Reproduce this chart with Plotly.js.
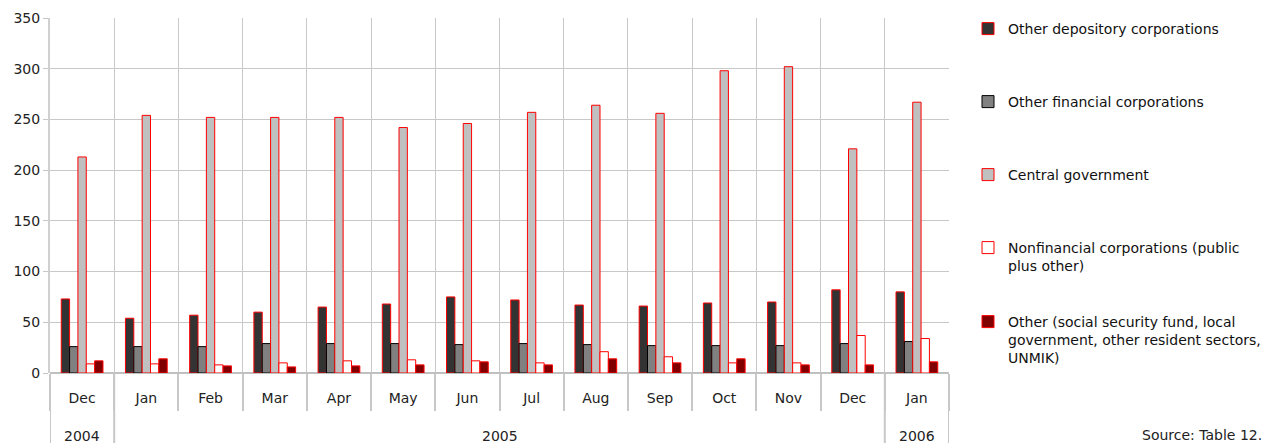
<!DOCTYPE html>
<html>
<head>
<meta charset="utf-8">
<script src="https://cdn.plot.ly/plotly-3.0.1.min.js"></script>
<style>
  html, body { margin: 0; padding: 0; background: #fff; }
  #chart { width: 1272px; height: 443px; }
</style>
</head>
<body>
<div id="chart"></div>
<script>
// categories: month row and year row
const months = ["Dec", "Jan", "Feb", "Mar", "Apr", "May", "Jun", "Jul", "Aug", "Sep", "Oct", "Nov", "Dec", "Jan"];
const years = ["2004", "2005", "2005", "2005", "2005", "2005", "2005", "2005", "2005", "2005", "2005", "2005", "2005", "2006"];

// series values
const otherDepository = [73, 54, 57, 60, 65, 68, 75, 72, 67, 66, 69, 70, 82, 80];
const otherFinancial = [26, 26, 26, 29, 29, 29, 28, 29, 28, 27, 27, 27, 29, 31];
const centralGov = [213, 254, 252, 252, 252, 242, 246, 257, 264, 256, 298, 302, 221, 267];
const nonfinancial = [9, 9, 8, 10, 12, 13, 12, 10, 21, 16, 10, 10, 37, 34];
const otherSectors = [12, 14, 7, 6, 7, 8, 11, 8, 14, 10, 14, 8, 8, 11];

const seriesNames = [
  "Other depository corporations",
  "Other financial corporations",
  "Central government",
  "Nonfinancial corporations (public<br>plus other)",
  "Other (social security fund, local<br>government, other resident sectors,<br>UNMIK)"
];

const FONT = "DejaVu Sans, Verdana, sans-serif";
const GRID = "#c8c8c8";

const idx = months.map((m, i) => i);
const boundaries = months.map((m, i) => i - 0.5).concat([months.length - 0.5]);

function barTrace(vals, i, fill, edge, legendId) {
  return {
    type: "bar",
    x: idx,
    y: vals,
    name: seriesNames[i],
    legend: legendId,
    marker: { color: fill, line: { color: edge, width: 1 } }
  };
}

const traces = [
  barTrace(otherDepository, 0, "#333333", "#ff0000", "legend"),
  barTrace(otherFinancial, 1, "#808080", "#000000", "legend2"),
  barTrace(centralGov, 2, "#c0c0c0", "#ff0000", "legend3"),
  barTrace(nonfinancial, 3, "#ffffff", "#ff0000", "legend4"),
  barTrace(otherSectors, 4, "#800000", "#ff0000", "legend5")
];

function legendAt(topPx) {
  return {
    xref: "container", yref: "container",
    x: 968 / 1272, y: 1 - topPx / 443,
    xanchor: "left", yanchor: "top",
    bgcolor: "rgba(0,0,0,0)",
    font: { family: FONT, size: 14, color: "#111" },
    valign: "top"
  };
}

// year groups: label in the middle, divider at each edge
const yearGroups = [];
years.forEach((y, i) => {
  const last = yearGroups[yearGroups.length - 1];
  if (last && last.year === y) last.end = i;
  else yearGroups.push({ year: y, start: i, end: i });
});

const annotations = yearGroups.map(g => ({
  xref: "x", yref: "paper",
  x: (g.start + g.end) / 2, y: -0.177,
  yanchor: "middle",
  text: g.year,
  showarrow: false,
  font: { family: FONT, size: 14, color: "#222" }
}));
annotations.push({
  xref: "paper", yref: "paper",
  x: 1.2125, y: -0.147,
  xanchor: "left", yanchor: "top",
  text: "Source: Table 12.",
  showarrow: false,
  font: { family: FONT, size: 14, color: "#222" }
});

const dividerX = [yearGroups[0].start - 0.5].concat(yearGroups.map(g => g.end + 0.5));
const shapes = dividerX.map(x => ({
  type: "line", xref: "x", yref: "paper",
  x0: x, x1: x, y0: 0, y1: -0.2,
  line: { color: GRID, width: 2 }
}));

const layout = {
  width: 1272,
  height: 443,
  margin: { l: 50, r: 323, t: 18, b: 70 },
  paper_bgcolor: "#ffffff",
  plot_bgcolor: "#ffffff",
  font: { family: FONT, size: 14, color: "#222" },
  barmode: "group",
  bargap: 0.35,
  bargroupgap: 0,
  showlegend: true,
  legend: legendAt(13),
  legend2: legendAt(86),
  legend3: legendAt(159),
  legend4: legendAt(232),
  legend5: legendAt(306),
  xaxis: {
    range: [-0.5, months.length - 0.5],
    tickmode: "array",
    tickvals: idx,
    ticktext: months,
    ticks: "",
    showgrid: false,
    zeroline: false,
    showline: false,
    ticklabelstandoff: 15,
    tickfont: { family: FONT, size: 14, color: "#222" },
    minor: {
      tickmode: "array",
      tickvals: boundaries,
      ticks: "outside",
      ticklen: 37,
      tickwidth: 2,
      tickcolor: GRID,
      showgrid: true,
      gridcolor: GRID,
      gridwidth: 1
    },
    fixedrange: true
  },
  yaxis: {
    range: [0, 350],
    dtick: 50,
    showgrid: true,
    gridcolor: GRID,
    gridwidth: 1,
    zeroline: true,
    zerolinecolor: "#c0c0c0",
    zerolinewidth: 2,
    showline: true,
    linecolor: "#d0d0d0",
    linewidth: 2,
    ticks: "outside",
    ticklen: 5,
    tickcolor: GRID,
    tickfont: { family: FONT, size: 14, color: "#222" },
    fixedrange: true
  },
  annotations: annotations,
  shapes: shapes
};

Plotly.newPlot("chart", traces, layout, { displayModeBar: false, staticPlot: true });
</script>
</body>
</html>
